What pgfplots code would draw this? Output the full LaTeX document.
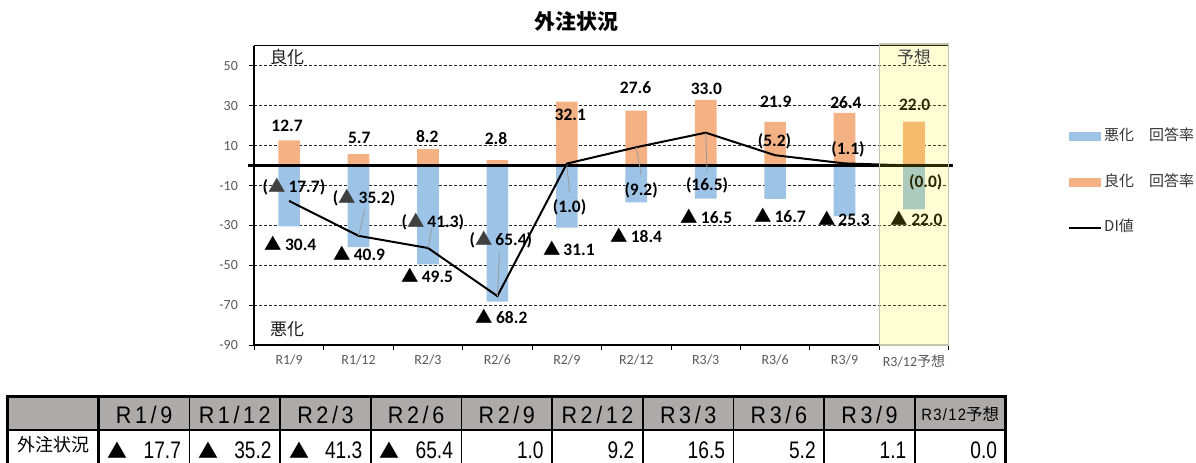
\documentclass[border=0pt]{standalone}
\usepackage{pgfplots}
\pgfplotsset{compat=1.18}
\usepackage{fontspec}
\setmainfont{Carlito}
\newfontfamily\jp{Noto Sans CJK JP}
\newfontfamily\calfont{Carlito}
\newfontfamily\nar[FakeStretch=0.8]{Liberation Sans}
\newfontfamily\hdr[FakeStretch=0.9,LetterSpace=15]{Liberation Sans}
\newfontfamily\hdrs[FakeStretch=0.9,LetterSpace=8]{Liberation Sans}
\definecolor{barblue}{HTML}{9DC3E6}
\definecolor{barorange}{HTML}{F4B183}
\definecolor{pborder}{HTML}{C4C4B0}
\definecolor{ticklab}{HTML}{595959}
\definecolor{hdrgray}{HTML}{AEAAAA}
\definecolor{dkgray}{HTML}{404040}
\newcommand\lb{\calfont\bfseries\fontsize{17.5}{19}\selectfont}
\newcommand\tri{{\jp\bfseries\fontsize{17.5}{19}\selectfont ▲}}
\newcommand\dtri{\textcolor{dkgray}{\tri}}
\begin{document}
\begin{tikzpicture}[x=1pt,y=1pt]
\path (0,0) rectangle (1196,464);
\node[font=\jp\bfseries\fontsize{21}{24}\selectfont] at (578,442) {外注状況};
\begin{axis}[
  at={(255pt,118pt)}, anchor=south west, scale only axis,
  width=696pt, height=300pt,
  xmin=-0.5, xmax=9.5, ymin=-90, ymax=60,
  set layers, clip=false,
  axis line style={black, line width=1pt},
  xtick={-0.5,0.5,...,9.5}, xticklabels={},
  extra x ticks={0,1,2,3,4,5,6,7,8,9},
  extra x tick labels={R1/9,R1/12,R2/3,R2/6,R2/9,R2/12,R3/3,R3/6,R3/9,R3/12{\jp 予想}},
  extra x tick style={major tick length=0pt, grid=none},
  ytick={-90,-70,-50,-30,-10,10,30,50},
  yticklabels={-90,-70,-50,-30,-10,10,30,50},
  tick align=outside, tick pos=left,
  major tick length=5pt,
  tick style={black, line width=0.8pt},
  ymajorgrids=true, xmajorgrids=false,
  major grid style={black!85, dash pattern=on 3pt off 2pt, line width=0.8pt},
  yticklabel style={font=\calfont\fontsize{14}{16}\selectfont, text=ticklab, xshift=-8pt},
  xticklabel style={font=\calfont\fontsize{14}{16}\selectfont, text=ticklab, yshift=-6pt},
  legend style={at={(1.172,0.727)}, anchor=north west, draw=none, fill=none,
    font=\jp\fontsize{15}{17}\selectfont, text=black!80, row sep=27.5pt,
    inner sep=0pt, nodes={text height=11pt, text depth=3pt, inner sep=2pt},
    cells={anchor=west}},
]
% bars
\addplot[ybar, bar width=21.7pt, bar shift=0pt, fill=barblue, draw=none,
  legend image code/.code={\fill[barblue] (0pt,-4.5pt) rectangle (32pt,4.5pt);}]
  coordinates {(0,-30.4) (1,-40.9) (2,-49.5) (3,-68.2) (4,-31.1) (5,-18.4) (6,-16.5) (7,-16.7) (8,-25.3) (9,-22.0)};
\addlegendentry{悪化　回答率}
\addplot[ybar, bar width=21.7pt, bar shift=0pt, fill=barorange, draw=none,
  legend image code/.code={\fill[barorange] (0pt,-4.5pt) rectangle (32pt,4.5pt);}]
  coordinates {(0,12.7) (1,5.7) (2,8.2) (3,2.8) (4,32.1) (5,27.6) (6,33.0) (7,21.9) (8,26.4) (9,22.0)};
\addlegendentry{良化　回答率}
% axis emphasis
\draw[line width=2pt] (rel axis cs:0,1) -- (rel axis cs:0,0) -- (rel axis cs:1,0);
\draw[line width=3pt] (axis cs:-0.586,0) -- (axis cs:9.557,0);
% DI line
\addplot[black, line width=2pt, mark=none,
  legend image code/.code={\draw[black, line width=2pt] (0pt,0pt) -- (32pt,0pt);}]
  coordinates {(0,-17.7) (1,-35.2) (2,-41.3) (3,-65.4) (4,1.0) (5,9.2) (6,16.5) (7,5.2) (8,1.1) (9,0.0)};
\addlegendentry{DI値}
% leader lines
\draw[black!40, line width=0.8pt] (axis cs:1.09,-22) -- (axis cs:1.0,-35.2);
\draw[black!40, line width=0.8pt] (axis cs:2.06,-31) -- (axis cs:2.0,-41.3);
\draw[black!40, line width=0.8pt] (axis cs:3.03,-43.7) -- (axis cs:3.0,-65.4);
\draw[black!40, line width=0.8pt] (axis cs:4.04,-13.7) -- (axis cs:4.0,0.5);
\draw[black!40, line width=0.8pt] (axis cs:5.07,-4.5) -- (axis cs:5.0,9.2);
\draw[black!40, line width=0.8pt] (axis cs:6.02,-3) -- (axis cs:6.0,16.5);
% texts
\node[font=\jp\fontsize{17}{19}\selectfont, text=black!90] at (axis cs:-0.03,54.5) {良化};
\node[font=\jp\fontsize{17}{19}\selectfont, text=black!90] at (axis cs:-0.03,-82) {悪化};
% orange labels
\node[font=\lb] at (axis cs:-0.03,20) {12.7};
\node[font=\lb] at (axis cs:1.01,14) {5.7};
\node[font=\lb] at (axis cs:1.99,14.5) {8.2};
\node[font=\lb] at (axis cs:2.98,13.5) {2.8};
\node[font=\lb] at (axis cs:4.05,25.5) {32.1};
\node[font=\lb] at (axis cs:4.99,39) {27.6};
\node[font=\lb] at (axis cs:6.01,38.5) {33.0};
\node[font=\lb] at (axis cs:7.01,32) {21.9};
\node[font=\lb] at (axis cs:8.02,31.5) {26.4};
\node[font=\lb] at (axis cs:9.01,30.5) {22.0};
% blue labels
\node[font=\lb] at (axis cs:0.02,-39) {\tri\,30.4};
\node[font=\lb] at (axis cs:1.01,-44) {\tri\,40.9};
\node[font=\lb] at (axis cs:1.99,-55) {\tri\,49.5};
\node[font=\lb] at (axis cs:3.06,-75.5) {\tri\,68.2};
\node[font=\lb] at (axis cs:4.03,-41.5) {\tri\,31.1};
\node[font=\lb] at (axis cs:5.0,-35) {\tri\,18.4};
\node[font=\lb] at (axis cs:6.01,-25.5) {\tri\,16.5};
\node[font=\lb] at (axis cs:7.07,-25) {\tri\,16.7};
\node[font=\lb] at (axis cs:7.99,-26.5) {\tri\,25.3};
\node[font=\lb] at (axis cs:9.04,-26.5) {\tri\,22.0};
% DI labels
\node[font=\lb] at (axis cs:0.07,-10.5) {(\dtri\,17.7)};
\node[font=\lb] at (axis cs:1.08,-16) {(\dtri\,35.2)};
\node[font=\lb] at (axis cs:2.07,-28) {(\dtri\,41.3)};
\node[font=\lb] at (axis cs:3.05,-37) {(\dtri\,65.4)};
\node[font=\lb] at (axis cs:4.04,-21) {(1.0)};
\node[font=\lb] at (axis cs:5.07,-12.5) {(9.2)};
\node[font=\lb] at (axis cs:6.02,-10) {(16.5)};
\node[font=\lb] at (axis cs:6.99,12) {(5.2)};
\node[font=\lb] at (axis cs:8.05,8) {(1.1)};
\node[font=\lb] at (axis cs:9.17,-8.5) {(0.0)};
% prediction overlay (semi-transparent yellow on top)
\addplot[fill=yellow, fill opacity=0.17, draw=none, forget plot]
  coordinates {(8.5,-90) (9.5,-90) (9.5,61) (8.5,61) (8.5,-90)};
\addplot[draw=pborder, line width=1.5pt, forget plot]
  coordinates {(8.5,-90) (9.5,-90) (9.5,61) (8.5,61) (8.5,-90)};
\node[font=\jp\fontsize{17}{19}\selectfont, text=dkgray] at (axis cs:9.0,54.5) {予想};
\end{axis}
% ===== table =====
\fill[hdrgray] (8,67) rectangle (1008,33);
\begin{scope}[overlay]
\foreach \k in {1,...,9} {
  \draw[line width=1.6pt] ({99+90.9*\k},67) -- ({99+90.9*\k},-5);
}
\draw[line width=2.6pt] (99,67) -- (99,-5);
\draw[line width=2.6pt] (8,33) -- (1008,33);
\draw[line width=3pt] (8,-5) -- (8,67) -- (1008,67) -- (1008,-5);
\end{scope}
\node[font=\jp\fontsize{18}{20}\selectfont] at (53.5,18) {外注状況};
\begin{scope}[every node/.style={font=\hdr\fontsize{24}{26}\selectfont}]
\node at ({99+90.9*0.5},48.5) {R1/9};
\node at ({99+90.9*1.5},48.5) {R1/12};
\node at ({99+90.9*2.5},48.5) {R2/3};
\node at ({99+90.9*3.5},48.5) {R2/6};
\node at ({99+90.9*4.5},48.5) {R2/9};
\node at ({99+90.9*5.5},48.5) {R2/12};
\node at ({99+90.9*6.5},48.5) {R3/3};
\node at ({99+90.9*7.5},48.5) {R3/6};
\node at ({99+90.9*8.5},48.5) {R3/9};
\end{scope}
\node[font=\hdrs\fontsize{16.5}{18}\selectfont] at ({99+90.9*9.5},48.5) {R3/12{\jp 予想}};
% body values
\begin{scope}[every node/.style={font=\nar\fontsize{24}{26}\selectfont, anchor=east}]
\foreach \k/\v in {0/17.7,1/35.2,2/41.3,3/65.4,4/1.0,5/9.2,6/16.5,7/5.2,8/1.1,9/0.0} {
  \node at ({99+90.9*(\k+1)-5},13) {\v};
}
\end{scope}
\foreach \k in {0,1,2,3} {
  \node[font=\jp\fontsize{20}{22}\selectfont, anchor=west, inner sep=0pt] at ({99+90.9*\k+9},13) {▲};
}
\end{tikzpicture}
\end{document}
